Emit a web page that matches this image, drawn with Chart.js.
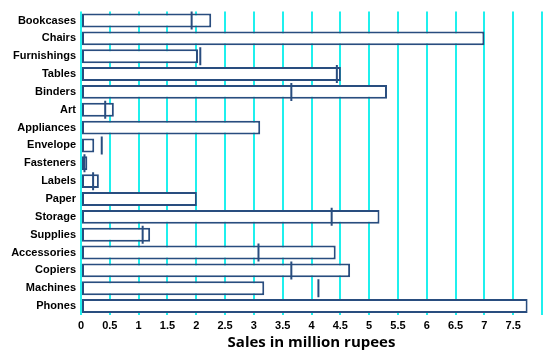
<!DOCTYPE html>
<html>
<head>
<meta charset="utf-8">
<script src="https://cdn.jsdelivr.net/npm/chart.js@4/dist/chart.umd.min.js"></script>
<style>
  html, body { margin: 0; padding: 0; background: #ffffff; }
  #wrap { width: 557px; height: 352px; }
</style>
</head>
<body>
<div id="wrap"><canvas id="myChart"></canvas></div>
<script>
let categories = ["Bookcases", "Chairs", "Furnishings", "Tables", "Binders", "Art", "Appliances",
  "Envelope", "Fasteners", "Labels", "Paper", "Storage", "Supplies", "Accessories", "Copiers",
  "Machines", "Phones"];
// 売上（棒）
let salesValues = [2.26, 7.0, 2.03, 4.51, 5.31, 0.57, 3.11, 0.23, 0.11, 0.31, 2.01, 5.18, 1.2, 4.42, 4.67, 3.18, 7.75];
// 目標（縦線マーカー）
let targetValues = [1.92, null, 2.07, 4.44, 3.65, 0.42, null, 0.36, 0.06, 0.21, null, 4.35, 1.07, 3.08, 3.65, 4.12, null];
let xTicks = [0, 0.5, 1, 1.5, 2, 2.5, 3, 3.5, 4, 4.5, 5, 5.5, 6, 6.5, 7, 7.5];

let barColor = "#294d7f";
let gridColor = "#1ff0ee";

let config = {
  type: "bar",
  data: {
    labels: categories,
    datasets: [
      {
        data: salesValues,
        backgroundColor: "#ffffff",
        borderColor: barColor,
        borderWidth: 2,
        borderSkipped: false,
        barPercentage: 0.78,
        categoryPercentage: 1.0,
        order: 2,
      },
      {
        type: "line",
        data: targetValues,
        showLine: false,
        pointStyle: "line",
        rotation: 90,
        pointRadius: 9,
        pointBorderWidth: 2,
        borderColor: barColor,
        pointBorderColor: barColor,
        order: 1,
      },
    ],
  },
  options: {
    indexAxis: "y",
    responsive: true,
    maintainAspectRatio: false,
    animation: false,
    layout: { padding: { top: 10, right: 15, left: 0, bottom: 0 } },
    plugins: {
      legend: { display: false },
      tooltip: { enabled: false },
    },
    scales: {
      x: {
        type: "linear",
        min: 0,
        max: 8,
        afterBuildTicks: (scale) => {
          scale.ticks = xTicks.concat([8]).map((v) => ({ value: v }));
        },
        afterFit: (scale) => {
          scale.height = 37;
        },
        grid: {
          display: true,
          color: gridColor,
          lineWidth: 2,
          drawTicks: false,
        },
        border: { display: false },
        ticks: {
          padding: 4,
          color: "#000000",
          maxRotation: 0,
          autoSkip: false,
          font: { family: "Liberation Sans", size: 11, weight: "bold" },
          callback: (v) => (v === 8 ? "" : v),
        },
        title: {
          display: true,
          text: "Sales in million rupees",
          color: "#000000",
          padding: { top: 2, bottom: 0 },
          font: { family: "Open Sans", size: 15, weight: "bold" },
        },
      },
      y: {
        afterFit: (scale) => {
          scale.width = 81;
        },
        grid: { display: false, drawTicks: false },
        border: { display: false },
        ticks: {
          padding: 5,
          color: "#000000",
          autoSkip: false,
          font: { family: "Liberation Sans", size: 11, weight: "bold" },
        },
      },
    },
  },
};

window.onload = function () {
  let ctx = document.getElementById("myChart").getContext("2d");
  window.myBar = new Chart(ctx, config);
};
</script>
</body>
</html>
